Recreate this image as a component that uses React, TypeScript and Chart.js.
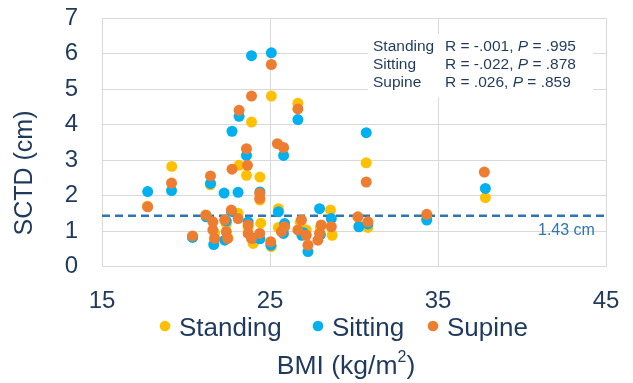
import { useEffect, useRef } from 'react';
import { Chart, registerables } from 'chart.js';

Chart.register(...registerables);

const seriesNames = ['Standing', 'Sitting', 'Supine'];
const seriesColors = ['#FFC000', '#00B0F0', '#ED7D31'];

const standingBMI = [17.7, 19.15, 20.4, 21.2, 21.45, 21.7, 22.4, 22.5, 23.1, 23.15, 23.6, 23.7, 23.9, 24.0, 24.4, 24.4, 24.45, 25.08, 25.08, 25.5, 25.5, 26.66, 26.8, 27.16, 28.0, 28.6, 28.7, 30.3, 30.73, 30.83, 34.33, 37.82];
const standingSCTD = [1.70, 2.82, 0.84, 1.44, 2.30, 0.95, 1.20, 0.80, 1.50, 2.85, 2.57, 1.10, 4.07, 0.65, 2.52, 1.87, 1.22, 4.80, 0.56, 1.63, 1.10, 4.60, 1.25, 1.03, 1.10, 1.59, 0.88, 1.15, 2.92, 1.10, 1.35, 1.94];

const sittingBMI = [17.72, 19.14, 20.39, 21.2, 21.46, 21.65, 22.27, 22.3, 22.4, 22.7, 22.74, 23.1, 23.16, 23.6, 23.7, 23.9, 24.0, 24.4, 24.4, 25.05, 25.08, 25.5, 25.81, 25.8, 25.87, 26.66, 26.9, 27.0, 27.26, 27.95, 28.0, 28.65, 30.29, 30.73, 30.83, 34.33, 37.82];
const sittingSCTD = [2.11, 2.14, 0.82, 1.40, 2.34, 0.62, 2.07, 0.74, 1.28, 1.55, 3.81, 2.09, 4.23, 3.13, 1.26, 5.94, 0.80, 2.10, 0.78, 0.60, 6.02, 1.54, 3.13, 0.93, 1.21, 4.14, 0.88, 0.95, 0.42, 1.63, 0.90, 1.35, 1.12, 3.77, 1.20, 1.31, 2.20];

const supineBMI = [17.72, 19.14, 20.39, 21.18, 21.46, 21.6, 21.6, 21.7, 22.3, 22.4, 22.47, 22.7, 22.74, 23.1, 23.16, 23.6, 23.66, 23.7, 23.7, 23.9, 23.9, 24.39, 24.39, 24.39, 25.04, 25.08, 25.44, 25.81, 25.87, 25.68, 26.66, 26.87, 26.66, 27.16, 27.26, 28.05, 27.95, 27.85, 28.65, 30.23, 30.73, 30.83, 34.33, 37.76];
const supineSCTD = [1.68, 2.35, 0.86, 1.45, 2.55, 1.26, 1.03, 0.79, 1.31, 0.98, 0.79, 1.59, 2.74, 1.35, 4.40, 3.32, 2.85, 1.17, 0.93, 4.80, 0.79, 2.06, 1.92, 0.93, 0.70, 5.69, 3.46, 3.35, 1.12, 0.98, 4.44, 1.31, 1.03, 0.88, 0.60, 1.17, 0.93, 0.74, 1.12, 1.40, 2.38, 1.26, 1.47, 2.66];

const statR = ['-.001', '-.022', '.026'];
const statP = ['.995', '.878', '.859'];

const refValue = 1.43;
const refLabel = '1.43 cm';
const xTitle = 'BMI (kg/m';
const xTitleSup = '2';
const yTitle = 'SCTD (cm)';

const FONT = '"Liberation Sans", Arial, sans-serif';
const TEXT = '#1F3A5C';
const GRID = '#D9D9D9';
const LEGEND_DOT_X = [165, 318, 433];

const toPoints = (xs: number[], ys: number[]) => xs.map((x, i) => ({ x, y: ys[i] }));

const overlay = {
  id: 'overlay',
  beforeDatasetsDraw(chart: any) {
    const { ctx, chartArea, scales } = chart;
    const py = scales.y.getPixelForValue(refValue);
    ctx.save();
    ctx.strokeStyle = '#2E75B6';
    ctx.lineWidth = 2.5;
    ctx.setLineDash([8, 5]);
    ctx.beginPath();
    ctx.moveTo(chartArea.left, py);
    ctx.lineTo(chartArea.right, py);
    ctx.stroke();
    ctx.setLineDash([]);
    ctx.fillStyle = '#2E75B6';
    ctx.font = `16px ${FONT}`;
    ctx.textBaseline = 'alphabetic';
    ctx.textAlign = 'left';
    ctx.fillText(refLabel, 538, py + 19);

    // stats box
    ctx.fillStyle = '#FFFFFF';
    ctx.fillRect(368, 34, 225, 63);
    ctx.fillStyle = TEXT;
    seriesNames.forEach((name, i) => {
      const by = 51 + i * 17.8;
      ctx.font = `15.5px ${FONT}`;
      ctx.fillText(name, 373, by);
      let x = 445;
      const a = `R = ${statR[i]}, `;
      ctx.fillText(a, x, by);
      x += ctx.measureText(a).width;
      ctx.font = `italic 15.5px ${FONT}`;
      ctx.fillText('P', x, by);
      x += ctx.measureText('P').width;
      ctx.font = `15.5px ${FONT}`;
      ctx.fillText(` = ${statP[i]}`, x, by);
    });
    ctx.restore();
  },
  afterDraw(chart: any) {
    const { ctx } = chart;
    ctx.save();
    ctx.fillStyle = TEXT;
    ctx.textBaseline = 'alphabetic';
    ctx.textAlign = 'left';
    // legend
    ctx.font = `26px ${FONT}`;
    seriesNames.forEach((name, i) => {
      const x = LEGEND_DOT_X[i];
      ctx.fillStyle = seriesColors[i];
      ctx.beginPath();
      ctx.arc(x, 326, 5.3, 0, Math.PI * 2);
      ctx.fill();
      ctx.fillStyle = TEXT;
      ctx.fillText(name, x + 14, 336);
    });
    // x title
    ctx.font = `26.5px ${FONT}`;
    const w1 = ctx.measureText(xTitle).width;
    ctx.font = `16px ${FONT}`;
    const w2 = ctx.measureText(xTitleSup).width;
    ctx.font = `26.5px ${FONT}`;
    const w3 = ctx.measureText(')').width;
    let sx = 346 - (w1 + w2 + w3) / 2;
    ctx.fillText(xTitle, sx, 374);
    sx += w1;
    ctx.font = `16px ${FONT}`;
    ctx.fillText(xTitleSup, sx, 362);
    sx += w2;
    ctx.font = `26.5px ${FONT}`;
    ctx.fillText(')', sx, 374);
    // y title
    ctx.translate(25, 173);
    ctx.rotate(-Math.PI / 2);
    ctx.textAlign = 'center';
    ctx.textBaseline = 'middle';
    ctx.font = `25px ${FONT}`;
    ctx.fillText(yTitle, 0, 0);
    ctx.restore();
  },
};

export default function App() {
  const ref = useRef<HTMLCanvasElement | null>(null);
  useEffect(() => {
    if (!ref.current) return;
    const mk = (i: number, xs: number[], ys: number[], order: number) => ({
      label: seriesNames[i],
      data: toPoints(xs, ys),
      backgroundColor: seriesColors[i],
      borderColor: seriesColors[i],
      borderWidth: 0,
      pointRadius: 5.5,
      pointHoverRadius: 5.5,
      order,
    });
    const chart = new Chart(ref.current, {
      type: 'scatter',
      data: {
        datasets: [
          mk(0, standingBMI, standingSCTD, 3),
          mk(1, sittingBMI, sittingSCTD, 2),
          mk(2, supineBMI, supineSCTD, 1),
        ],
      },
      options: {
        responsive: false,
        animation: false,
        layout: { padding: { top: 18, right: 27, left: 0, bottom: 0 } },
        plugins: { legend: { display: false }, tooltip: { enabled: false } },
        scales: {
          x: {
            type: 'linear',
            min: 15,
            max: 45,
            ticks: { stepSize: 10, color: TEXT, font: { family: FONT, size: 24 }, padding: 20, maxRotation: 0 },
            grid: { color: GRID, lineWidth: 1, drawTicks: false },
            border: { color: GRID, width: 1 },
            afterFit: (s: any) => {
              s.height = 116.5;
              s.paddingLeft = 0; s.paddingRight = 0; s.paddingTop = 0; s.paddingBottom = 0;
            },
          },
          y: {
            min: 0,
            max: 7,
            ticks: { stepSize: 1, color: TEXT, font: { family: FONT, size: 24 }, padding: 24 },
            grid: { color: GRID, lineWidth: 1, drawTicks: false },
            border: { color: GRID, width: 1 },
            afterFit: (s: any) => {
              s.width = 102;
              s.paddingLeft = 0; s.paddingRight = 0; s.paddingTop = 0; s.paddingBottom = 0;
            },
          },
        },
      },
      plugins: [overlay],
    });
    return () => chart.destroy();
  }, []);
  return (
    <div style={{ position: 'fixed', left: 0, top: 0, width: 633, height: 383, background: '#fff' }}>
      <canvas ref={ref} width={633} height={383} style={{ display: 'block' }} />
    </div>
  );
}
